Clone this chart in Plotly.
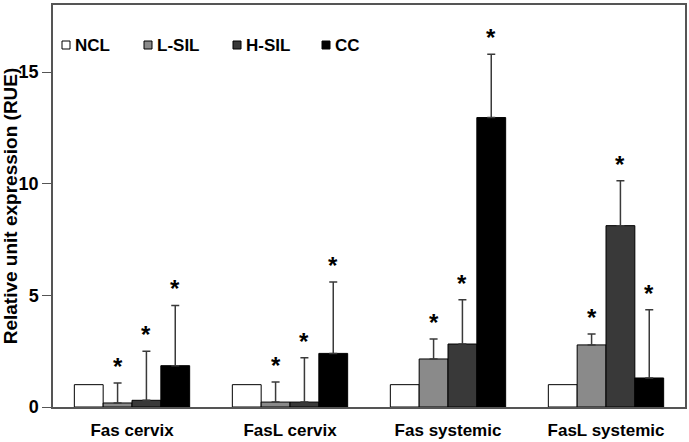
import plotly.graph_objects as go

categories = ["Fas cervix", "FasL cervix", "Fas systemic", "FasL systemic"]
series_names = ["NCL", "L-SIL", "H-SIL", "CC"]
ncl = [1.0, 1.0, 1.0, 1.0]
lsil = [0.18, 0.22, 2.15, 2.78]
hsil = [0.3, 0.22, 2.82, 8.12]
cc = [1.85, 2.4, 12.96, 1.3]
ncl_err = [0, 0, 0, 0]
lsil_err = [0.89, 0.9, 0.89, 0.49]
hsil_err = [2.2, 1.98, 1.98, 2.01]
cc_err = [2.7, 3.2, 2.84, 3.05]
significant = [
    [False, False, False, False],
    [True, True, True, True],
    [True, True, True, True],
    [True, True, True, True],
]
colors = ["#ffffff", "#8a8a8a", "#393939", "#000000"]

values = [ncl, lsil, hsil, cc]
errors = [ncl_err, lsil_err, hsil_err, cc_err]

FONT = "Liberation Sans, Arial, sans-serif"
W, H = 689, 442
ML, MR, MT, MB = 53, 4, 5, 35
PW, PH = W - ML - MR, H - MT - MB

def px_x(px):
    return (px - ML) / PW

def px_y(py):
    return (H - MB - py) / PH

fig = go.Figure()
for name, vals, errs, col in zip(series_names, values, errors, colors):
    fig.add_trace(go.Bar(
        name=name, x=categories, y=vals,
        marker=dict(color=col, line=dict(color="#000000", width=1)),
        error_y=dict(type="data", array=errs, arrayminus=[0] * len(errs),
                     symmetric=False, visible=any(e > 0 for e in errs),
                     color="#3a3a3a", thickness=1.5, width=4),
    ))

n = len(series_names)
for si in range(n):
    for ci, cat in enumerate(categories):
        if significant[si][ci]:
            top = values[si][ci] + errors[si][ci]
            fig.add_annotation(
                x=cat, y=top, xref="x", yref="y",
                text="*", showarrow=False, yanchor="bottom",
                xshift=(si - (n - 1) / 2) * 28.8, yshift=1,
                font=dict(family=FONT, size=24, color="#000000", weight="bold"),
            )

# manual legend (small squares right next to the labels)
legend_left_px = [62, 144, 233, 322]
legend_mid_py = 45
box = 8
for name, col, lx in zip(series_names, colors, legend_left_px):
    fig.add_shape(type="rect", xref="paper", yref="paper",
                  x0=px_x(lx), x1=px_x(lx + box),
                  y0=px_y(legend_mid_py + box / 2), y1=px_y(legend_mid_py - box / 2),
                  fillcolor=col, line=dict(color="#000000", width=1))
    fig.add_annotation(x=px_x(lx + box + 3), y=px_y(legend_mid_py), xref="paper", yref="paper",
                       text=name, showarrow=False, xanchor="left", yanchor="middle",
                       font=dict(family=FONT, size=17, color="#000000", weight="bold"))

fig.update_layout(
    width=W, height=H,
    margin=dict(l=ML, r=MR, t=MT, b=MB),
    paper_bgcolor="#ffffff", plot_bgcolor="#ffffff",
    font=dict(family=FONT, color="#000000", weight="bold"),
    barmode="group", bargap=0.27, bargroupgap=0,
    showlegend=False,
    xaxis=dict(showline=True, linecolor="#555555", linewidth=1.5, mirror=True,
               ticks="", showgrid=False, automargin=False, ticklabelstandoff=7,
               tickfont=dict(size=17, family=FONT, weight="bold")),
    yaxis=dict(range=[0, 18], tickvals=[0, 5, 10, 15], showgrid=False, zeroline=False,
               showline=True, linecolor="#555555", linewidth=1.5, mirror=True,
               ticks="outside", ticklen=9, tickcolor="#555555", automargin=False,
               tickfont=dict(size=18, family=FONT, weight="bold"),
               title=dict(text="Relative unit expression (RUE)", standoff=2,
                          font=dict(size=19, family=FONT, weight="bold"))),
)

fig.write_html("out.html", config={"displayModeBar": False},
               post_script="document.body.style.margin='0';")
